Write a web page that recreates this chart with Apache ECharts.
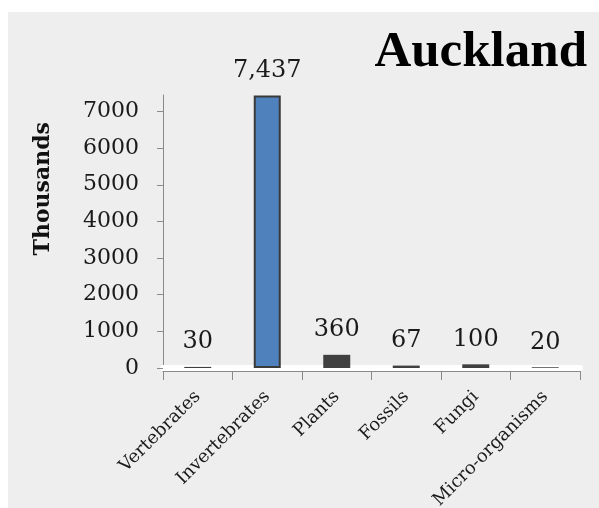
<!DOCTYPE html>
<html>
<head>
<meta charset="utf-8">
<script src="https://cdn.jsdelivr.net/npm/echarts@6/dist/echarts.min.js"></script>
<style>
  html, body { margin: 0; padding: 0; background: #ffffff; width: 599px; height: 508px; overflow: hidden; }
  #main { position: absolute; left: 8px; top: 12px; width: 591px; height: 496px; background: #eeeeee; }
</style>
</head>
<body>
<div id="main"></div>
<script>
const categories = ['Vertebrates', 'Invertebrates', 'Plants', 'Fossils', 'Fungi', 'Micro-organisms'];
const values = [30, 7437, 360, 67, 100, 20];
const yMin = 0;
const yMax = 7450;
const yInterval = 1000;
const titleText = 'Auckland';
const yAxisName = 'Thousands';

const barColors = ['#404040', '#4f81bd', '#404040', '#404040', '#404040', '#404040'];

const chart = echarts.init(document.getElementById('main'), null, { renderer: 'canvas' });

const numFont = 'DejaVu Serif';

chart.setOption({
  animation: false,
  backgroundColor: '#eeeeee',
  title: {
    text: titleText,
    right: 7,
    top: 10,
    textStyle: { fontFamily: 'Liberation Serif', fontWeight: 'bold', fontSize: 51, color: '#000000' }
  },
  graphic: [{
    type: 'text',
    left: 24,
    top: 110,
    rotation: Math.PI / 2,
    style: { text: yAxisName, font: 'bold 22px "DejaVu Serif"', fill: '#111111' }
  }],
  grid: { left: 155, right: 19, top: 83, bottom: 140, containLabel: false, outerBoundsMode: 'none' },
  xAxis: [{
    type: 'category',
    data: categories,
    position: 'bottom',
    axisLine: { lineStyle: { color: '#ffffff', width: 6 } },
    axisTick: { show: false },
    axisLabel: { show: false }
  }, {
    type: 'category',
    data: categories,
    position: 'bottom',
    offset: 3,
    axisLine: { lineStyle: { color: '#8a8a8a', width: 1 } },
    axisTick: { show: true, length: 9, lineStyle: { color: '#8a8a8a' } },
    axisLabel: {
      interval: 0,
      rotate: 45,
      margin: 23,
      fontFamily: 'DejaVu Serif',
      fontSize: 18,
      color: '#1a1a1a'
    }
  }],
  yAxis: {
    type: 'value',
    min: yMin,
    max: yMax,
    interval: yInterval,
    axisLine: { show: true, lineStyle: { color: '#8a8a8a', width: 1 } },
    axisTick: { show: true, length: 6, lineStyle: { color: '#8a8a8a' } },
    splitLine: { show: false },
    axisLabel: {
      showMaxLabel: false,
      margin: 24,
      fontFamily: numFont,
      fontSize: 22,
      color: '#1a1a1a',
      formatter: v => String(v)
    }
  },
  series: [{
    type: 'bar',
    xAxisIndex: 0,
    barWidth: 27,
    data: values.map((v, i) => ({
      value: v,
      itemStyle: i === 1
        ? { color: barColors[i], borderColor: '#3a3a3a', borderWidth: 2 }
        : { color: barColors[i] }
    })),
    label: {
      show: true,
      position: 'top',
      distance: 13,
      fontFamily: numFont,
      fontSize: 24,
      color: '#1a1a1a',
      formatter: p => p.value.toLocaleString('en-US')
    }
  }]
});
</script>
</body>
</html>
